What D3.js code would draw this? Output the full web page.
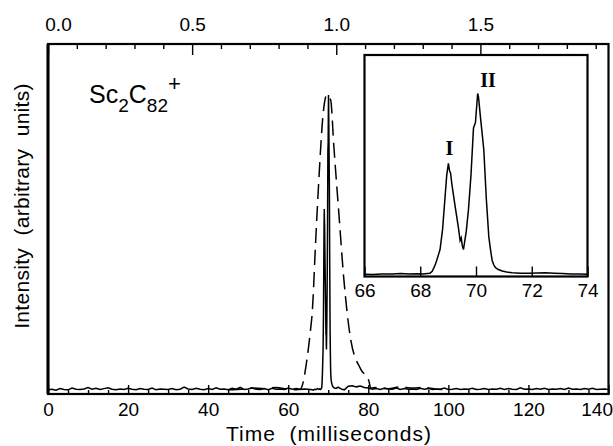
<!DOCTYPE html>
<html>
<head>
<meta charset="utf-8">
<script src="https://cdn.jsdelivr.net/npm/d3@7"></script>
<style>
  html, body { margin: 0; padding: 0; background: #fff; }
  svg { display: block; }
  text { font-family: "Liberation Sans", Arial, Helvetica, sans-serif; fill: #000; }
</style>
</head>
<body>
<svg id="chart" width="613" height="446"></svg>
<script>
// ---- Data -------------------------------------------------------------
// Bottom axis (milliseconds) and top axis (seconds-equivalent) tick values
const bottomTicks = [0, 20, 40, 60, 80, 100, 120, 140];
const topTicks = ["0.0", "0.5", "1.0", "1.5"];
const insetTicks = [66, 68, 70, 72, 74];

// Solid trace baseline, t = 0..65 ms (1 ms steps)
const solidLeftValue = [0.004,0.006,0.003,0.008,0.005,0.004,0.010,0.006,0.005,0.007,
  0.012,0.006,0.009,0.005,0.008,0.011,0.006,0.004,0.007,0.005,
  0.009,0.006,0.004,0.008,0.006,0.005,0.010,0.004,0.007,0.006,
  0.005,0.008,0.004,0.006,0.013,0.007,0.005,0.009,0.006,0.004,
  0.008,0.005,0.011,0.006,0.007,0.004,0.009,0.006,0.012,0.005,
  0.007,0.010,0.006,0.005,0.008,0.004,0.009,0.006,0.007,0.005,
  0.010,0.006,0.008,0.005,0.007,0.006];

// Solid trace baseline, t = 75..140 ms (1 ms steps)
const solidRightValue = [0.016,0.018,0.014,0.017,0.012,0.010,
  0.006,0.008,0.005,0.009,0.007,0.006,0.010,0.005,0.008,0.006,
  0.007,0.005,0.009,0.006,0.008,0.005,0.007,0.006,0.010,0.005,
  0.006,0.008,0.005,0.007,0.006,0.009,0.005,0.006,0.008,0.005,
  0.007,0.006,0.009,0.005,0.008,0.006,0.005,0.011,0.006,0.007,
  0.005,0.008,0.006,0.009,0.005,0.007,0.006,0.008,0.005,0.010,
  0.006,0.007,0.005,0.008,0.006,0.009,0.005,0.006,0.007,0.005];

// Resolved doublet (peaks I and II), 66..74 ms
const peakTime = [66.0,66.3,66.6,67.0,67.3,67.6,67.9,68.1,68.25,68.35,
  68.43,68.52,68.59,68.66,68.71,68.80,68.89,68.95,69.01,69.05,
  69.09,69.13,69.25,69.37,69.43,69.47,69.51,69.55,69.60,69.65,
  69.73,69.82,69.91,69.98,70.06,70.09,70.16,70.28,70.37,70.46,
  70.52,70.58,70.64,70.70,70.80,70.94,71.1,71.3,71.6,71.9,
  72.2,72.5,72.8,73.1,73.4,73.7,74.0];
const peakValue = [0.004,0.003,0.006,0.005,0.008,0.006,0.007,0.005,0.008,0.010,
  0.020,0.050,0.080,0.115,0.140,0.250,0.430,0.550,0.615,0.575,
  0.560,0.505,0.380,0.260,0.190,0.205,0.160,0.140,0.190,0.240,
  0.360,0.550,0.810,0.840,1.000,0.980,0.870,0.690,0.420,0.210,
  0.140,0.080,0.055,0.040,0.030,0.022,0.016,0.012,0.010,0.009,
  0.011,0.013,0.010,0.008,0.006,0.005,0.004];

// Dashed (unresolved) trace
const dashTime = [45,48,51,54,57,60,62,63.1,63.5,64.5,
  65.6,66.0,66.8,67.65,68.75,69.6,70.6,71.4,72.65,73.9,
  75.6,78.1,80.15,80.6,82,85,88,91,94,97,100];
const dashValue = [0.004,0.006,0.010,0.008,0.012,0.006,0.004,0.007,0.018,0.090,
  0.210,0.265,0.490,0.714,0.940,1.000,0.983,0.826,0.600,0.377,
  0.175,0.074,0.034,0.010,0.012,0.008,0.014,0.010,0.012,0.006,0.005];

// ---- Layout -----------------------------------------------------------
const svg = d3.select("#chart");
const plot = { left: 48, right: 608.5, top: 44, bottom: 394 };
const inset = { left: 364.5, right: 587.5, top: 55, bottom: 276.5 };

const x = d3.scaleLinear().domain([0, 140]).range([plot.left, plot.right]);
const xTop = d3.scaleLinear().domain([0, 140 / 72]).range([plot.left, plot.right]);
const y = d3.scaleLinear().domain([0, 1]).range([391, 95]);

const xi = d3.scaleLinear().domain([66, 74]).range([inset.left, inset.right]);
const yi = d3.scaleLinear().domain([0, 1]).range([275, 93.5]);

// Assemble full solid trace from baseline pieces and the doublet
const solid = [];
solidLeftValue.forEach((v, i) => solid.push([i, v]));
peakTime.forEach((t, i) => solid.push([t, peakValue[i]]));
solidRightValue.forEach((v, i) => solid.push([75 + i, v]));
const dashed = dashTime.map((t, i) => [t, dashValue[i]]);
const peak = peakTime.map((t, i) => [t, peakValue[i]]);

// ---- Main traces ------------------------------------------------------
svg.append("path").datum(dashed)
  .attr("d", d3.line().x(d => x(d[0])).y(d => y(d[1])).curve(d3.curveMonotoneX))
  .attr("fill", "none").attr("stroke", "#000")
  .attr("stroke-width", 1.5).attr("stroke-dasharray", "15,7");
svg.append("path").datum(solid)
  .attr("d", d3.line().x(d => x(d[0])).y(d => y(d[1])))
  .attr("fill", "none").attr("stroke", "#000").attr("stroke-width", 1.5);

// ---- Axes -------------------------------------------------------------
function styleAxis(g) {
  g.select(".domain").remove();
  g.selectAll("line").attr("stroke", "#000").attr("stroke-width", 1.4);
  g.selectAll("text").attr("fill", "#000").style("font-size", "19px");
}

// bottom: labelled every 20 ms, minor every 5 ms, ticks pointing inward
const gBottom = svg.append("g").attr("transform", `translate(0,${plot.bottom})`)
  .call(d3.axisBottom(x).tickValues(bottomTicks).tickSize(-9).tickPadding(9).tickFormat(d3.format("d")))
  .call(styleAxis);
svg.append("g").attr("transform", `translate(0,${plot.bottom})`)
  .call(d3.axisBottom(x).tickValues(d3.range(5, 140, 5).filter(v => v % 20 !== 0)).tickSize(-4).tickFormat(""))
  .call(styleAxis);
gBottom.selectAll(".tick text").filter(d => d === 140)
  .attr("text-anchor", "end").attr("x", 4);

// top: labelled every 0.5, minor every 0.1
const gTop = svg.append("g").attr("transform", `translate(0,${plot.top})`)
  .call(d3.axisTop(xTop).tickValues(topTicks.map(Number)).tickSize(-11).tickPadding(13).tickFormat(d3.format(".1f")))
  .call(styleAxis);
svg.append("g").attr("transform", `translate(0,${plot.top})`)
  .call(d3.axisTop(xTop).tickValues(d3.range(1, 20).map(i => i / 10).filter(v => Math.abs(v * 2 - Math.round(v * 2)) > 1e-6)).tickSize(-5).tickFormat(""))
  .call(styleAxis);
gTop.selectAll(".tick text").filter(d => d === 0).attr("x", 10);

// frame
svg.append("rect")
  .attr("x", plot.left).attr("y", plot.top)
  .attr("width", plot.right - plot.left).attr("height", plot.bottom - plot.top)
  .attr("fill", "none").attr("stroke", "#000").attr("stroke-width", 2.2);
svg.append("line")
  .attr("x1", plot.left).attr("x2", plot.left).attr("y1", plot.top).attr("y2", plot.bottom)
  .attr("stroke", "#000").attr("stroke-width", 3);

// axis titles
svg.append("text")
  .attr("x", 329).attr("y", 441).attr("text-anchor", "middle")
  .attr("xml:space", "preserve")
  .style("font-size", "21px").style("letter-spacing", "1px")
  .text("Time  (milliseconds)");
svg.append("text")
  .attr("transform", "translate(29,206) rotate(-90)")
  .attr("text-anchor", "middle").attr("xml:space", "preserve")
  .style("font-size", "21px").style("letter-spacing", "0.3px")
  .text("Intensity  (arbitrary  units)");

// species label
const species = svg.append("text").attr("x", 89).attr("y", 103).style("font-size", "25px");
species.append("tspan").text("Sc");
species.append("tspan").style("font-size", "19px").attr("dy", 9.4).text("2");
species.append("tspan").attr("dy", -9.4).text("C");
species.append("tspan").style("font-size", "19px").attr("dy", 9.4).text("82");
species.append("tspan").style("font-size", "22px").attr("dy", -21.3).text("+");

// ---- Inset ------------------------------------------------------------
svg.append("rect")
  .attr("x", inset.left).attr("y", inset.top)
  .attr("width", inset.right - inset.left).attr("height", inset.bottom - inset.top)
  .attr("fill", "#fff").attr("stroke", "none");
svg.append("path").datum(peak)
  .attr("d", d3.line().x(d => xi(d[0])).y(d => yi(d[1])))
  .attr("fill", "none").attr("stroke", "#000").attr("stroke-width", 1.5);
svg.append("g").attr("transform", `translate(0,${inset.bottom})`)
  .call(d3.axisBottom(xi).tickValues(insetTicks).tickSize(-10).tickPadding(7).tickFormat(d3.format("d")))
  .call(styleAxis);
svg.append("rect")
  .attr("x", inset.left).attr("y", inset.top)
  .attr("width", inset.right - inset.left).attr("height", inset.bottom - inset.top)
  .attr("fill", "none").attr("stroke", "#000").attr("stroke-width", 2.2);

// peak labels
const serif = "'Liberation Serif', 'Times New Roman', serif";
svg.append("text").attr("x", xi(69.05)).attr("y", 155)
  .attr("text-anchor", "middle").style("font-family", serif)
  .style("font-weight", "bold").style("font-size", "20px").text("I");
svg.append("text").attr("x", xi(70.43)).attr("y", 87)
  .attr("text-anchor", "middle").style("font-family", serif)
  .style("font-weight", "bold").style("font-size", "20px").text("II");
</script>
</body>
</html>
